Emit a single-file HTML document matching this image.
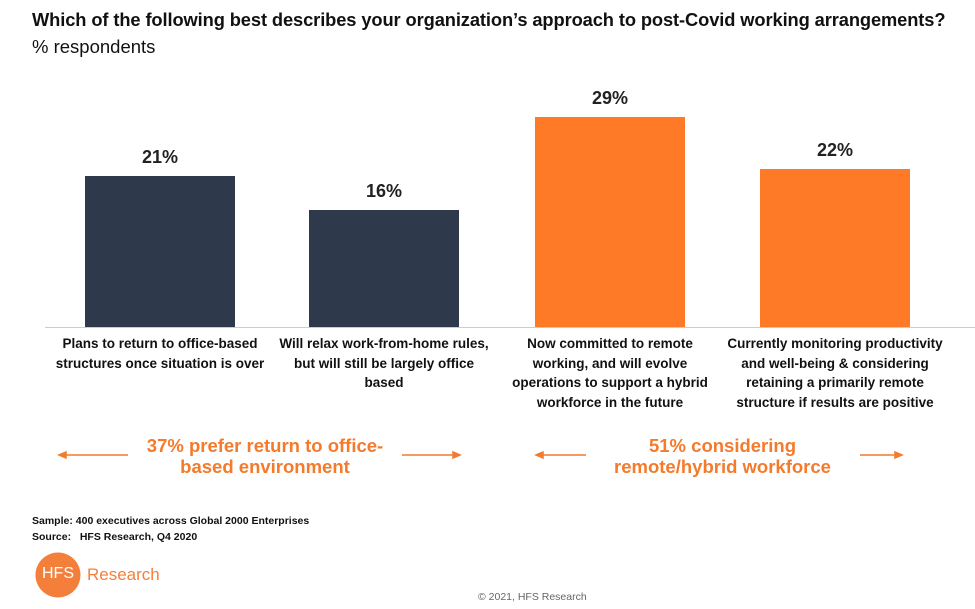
<!DOCTYPE html>
<html><head><meta charset="utf-8"><style>
body{margin:0;width:975px;height:609px;background:#fff;position:relative;overflow:hidden;font-family:"Liberation Sans",Arial,sans-serif}
.a{position:absolute;white-space:nowrap}
.bar{position:absolute;width:150px}
.v{position:absolute;width:150px;text-align:center;font-weight:bold;font-size:18px;color:#222}
.c{position:absolute;width:250px;text-align:center;font-weight:bold;font-size:13.5px;line-height:19.7px;color:#111;top:334px;white-space:nowrap}
.o{position:absolute;text-align:center;font-weight:bold;font-size:18.5px;line-height:21px;color:#f47a2c;white-space:nowrap}
</style></head><body>
<div class="a" style="left:32px;top:9px;font-weight:bold;font-size:18.3px;color:#111;letter-spacing:-0.1px">Which of the following best describes your organization’s approach to post-Covid working arrangements?</div>
<div class="a" style="left:32px;top:36px;font-size:18.5px;color:#111">% respondents</div>
<div class="a" style="left:45px;top:327px;width:930px;height:1px;background:#ccc"></div>
<div class="bar" style="left:85px;top:176px;height:151px;background:#2e3a4b"></div>
<div class="bar" style="left:309px;top:210px;height:117px;background:#2e3a4b"></div>
<div class="bar" style="left:535px;top:117px;height:210px;background:#fe7a26"></div>
<div class="bar" style="left:760px;top:169px;height:158px;background:#fe7a26"></div>
<div class="v" style="left:85px;top:147px">21%</div>
<div class="v" style="left:309px;top:181px">16%</div>
<div class="v" style="left:535px;top:88px">29%</div>
<div class="v" style="left:760px;top:140px">22%</div>
<div class="c" style="left:35px">Plans to return to office-based<br>structures once situation is over</div>
<div class="c" style="left:259px">Will relax work-from-home rules,<br>but will still be largely office<br>based</div>
<div class="c" style="left:485px">Now committed to remote<br>working, and will evolve<br>operations to support a hybrid<br>workforce in the future</div>
<div class="c" style="left:710px">Currently monitoring productivity<br>and well-being &amp; considering<br>retaining a primarily remote<br>structure if results are positive</div>
<div class="o" style="left:130px;width:270px;top:435px">37% prefer return to office-<br>based environment</div>
<div class="o" style="left:585px;width:275px;top:435px">51% considering<br>remote/hybrid workforce</div>
<svg class="a" style="left:0;top:0" width="975" height="609">
<g stroke="#f47a2c" stroke-width="1.5" fill="#f47a2c">
<line x1="63" y1="455" x2="128" y2="455"/><path d="M59 455l7-3v6z"/>
<line x1="402" y1="455" x2="456" y2="455"/><path d="M460 455l-7-3v6z"/>
<line x1="540" y1="455" x2="586" y2="455"/><path d="M536 455l7-3v6z"/>
<line x1="860" y1="455" x2="898" y2="455"/><path d="M902 455l-7-3v6z"/>
</g>
<circle cx="58" cy="575" r="22.5" fill="#f47f3b"/>
</svg>
<div class="a" style="left:32px;top:514px;font-weight:bold;font-size:10.5px;line-height:15.5px;color:#111">Sample: 400 executives across Global 2000 Enterprises<br>Source:&nbsp;&nbsp; HFS Research, Q4 2020</div>
<div class="a" style="left:36px;top:565px;width:44px;text-align:center;font-size:16px;color:#fff">HFS</div>
<div class="a" style="left:87px;top:565px;font-size:17px;color:#f47f3b">Research</div>
<div class="a" style="left:478px;top:591px;font-size:10.5px;color:#666">© 2021, HFS Research</div>
</body></html>
